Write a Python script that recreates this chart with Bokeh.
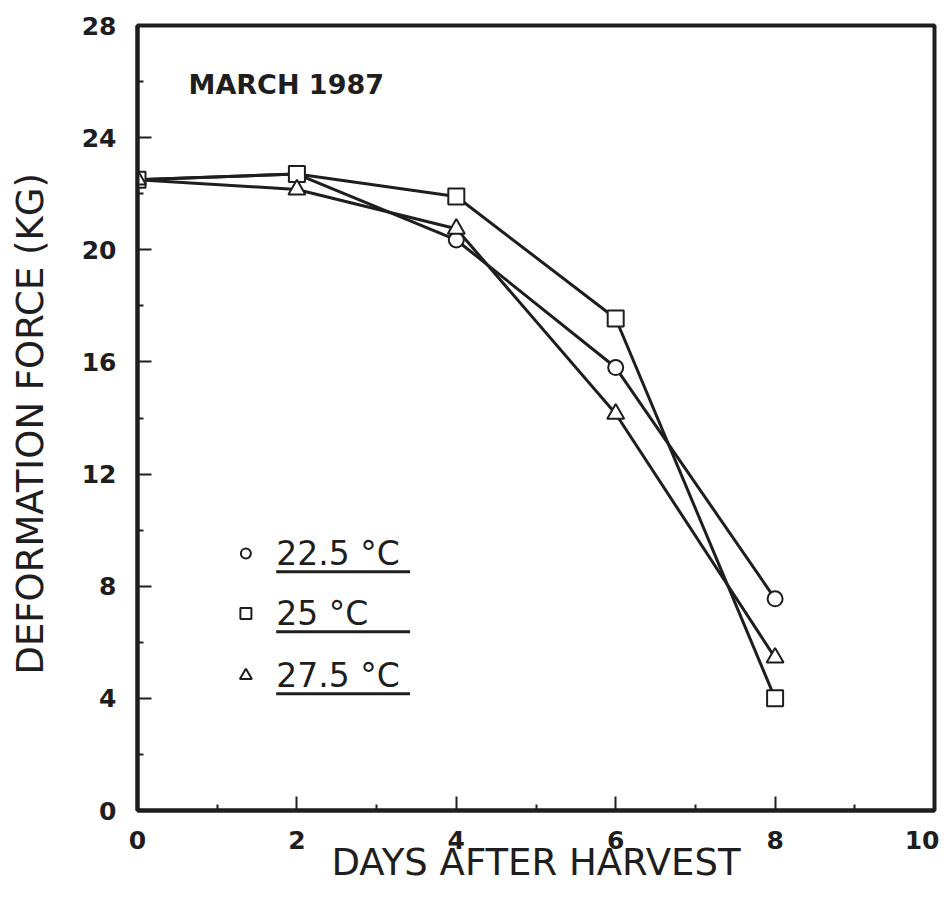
from bokeh.plotting import figure
from bokeh.models import FixedTicker, Label, Range1d
from bokeh.core.properties import value
from bokeh.embed import file_html
from bokeh.resources import INLINE

# ---- data ----
days = [0, 2, 4, 6, 8]
force_225 = [22.5, 22.7, 20.35, 15.8, 7.55]
force_25 = [22.5, 22.7, 21.9, 17.55, 4.0]
force_275 = [22.5, 22.15, 20.75, 14.15, 5.45]
series_labels = ["22.5 °C", "25 °C", "27.5 °C"]
x_ticks = [0, 2, 4, 6, 8, 10]
y_ticks = [0, 4, 8, 12, 16, 20, 24, 28]
title_text = "MARCH 1987"

INK = "#1e1e1e"
FONT = "DejaVu Sans"

p = figure(width=939, height=897, output_backend="svg", toolbar_location=None,
           x_range=Range1d(0, 10), y_range=Range1d(0, 28),
           min_border_left=137, min_border_top=25, min_border_right=5,
           min_border_bottom=87)
p.background_fill_color = "white"
p.border_fill_color = "white"
p.outline_line_color = INK
p.outline_line_width = 4
p.xgrid.visible = False
p.ygrid.visible = False

for ax in (p.xaxis[0], p.yaxis[0]):
    ax.axis_line_color = INK
    ax.axis_line_width = 4
    ax.major_tick_in = 14
    ax.major_tick_out = 0
    ax.minor_tick_in = 6
    ax.minor_tick_out = 0
    ax.major_tick_line_color = INK
    ax.major_tick_line_width = 2
    ax.minor_tick_line_color = INK
    ax.minor_tick_line_width = 2
    ax.major_label_text_font = FONT
    ax.major_label_text_font_style = "bold"
    ax.major_label_text_font_size = "25px"
    ax.major_label_text_color = INK
    ax.axis_label_text_font = FONT
    ax.axis_label_text_font_style = "normal"
    ax.axis_label_text_font_size = "37px"
    ax.axis_label_text_color = INK

p.xaxis.ticker = FixedTicker(ticks=x_ticks, minor_ticks=[1, 3, 5, 7, 9])
p.yaxis.ticker = FixedTicker(ticks=y_ticks, minor_ticks=[2, 6, 10, 14, 18, 22, 26])
p.xaxis.axis_label = "DAYS AFTER HARVEST"
p.yaxis.axis_label = "DEFORMATION FORCE  (KG)"
p.xaxis.major_label_standoff = 20
p.xaxis.axis_label_standoff = -11
p.yaxis.major_label_standoff = 21
p.yaxis.axis_label_standoff = 27

# lines
for ys in (force_225, force_25, force_275):
    p.line(days, ys, line_color=INK, line_width=3)

mk = dict(fill_color="white", line_color=INK, line_width=2)
p.scatter(days, force_225, marker="circle", size=15, **mk)
p.scatter(days, force_25, marker="square", size=16, **mk)
p.scatter(days, force_275, marker="triangle", size=17, **mk)

# custom legend
leg_y = [9.17, 7.03, 4.81]
leg_markers = ["circle", "square", "triangle"]
leg_sizes = [10, 11, 12]
for yy, m, s, lab in zip(leg_y, leg_markers, leg_sizes, series_labels):
    p.scatter([1.36], [yy], marker=m, size=s, fill_color="white", line_color=INK, line_width=2)
    p.text([1.74], [yy], text=[lab], text_font=value(FONT), text_font_size="33px",
           text_baseline="middle", text_align="left", text_color=INK)
    p.segment([1.74], [yy - 0.65], [3.42], [yy - 0.65], line_color=INK, line_width=3)

p.add_layout(Label(x=0.64, y=25.9, text=title_text, text_font=FONT, text_font_style="bold",
                   text_font_size="27px", text_baseline="middle", text_color=INK))

open("out.html", "w").write(file_html(p, INLINE))
